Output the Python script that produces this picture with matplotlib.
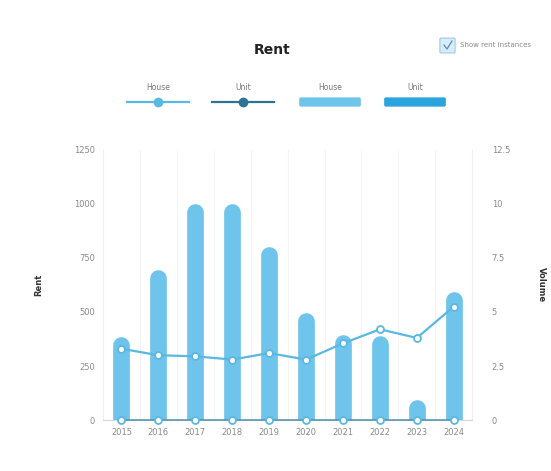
import numpy as np
import matplotlib
matplotlib.use('Agg')
import matplotlib.pyplot as plt
from matplotlib.transforms import ScaledTranslation
from matplotlib.lines import Line2D
from matplotlib.patches import FancyBboxPatch

years = ['2015', '2016', '2017', '2018', '2019', '2020', '2021', '2022', '2023', '2024']
house_rent = [385, 695, 1000, 1000, 800, 495, 395, 390, 95, 595]
unit_rent = [0, 0, 0, 0, 0, 0, 0, 0, 0, 0]
house_volume = [3.3, 3.0, 2.95, 2.8, 3.1, 2.8, 3.55, 4.2, 3.8, 5.25]
unit_volume = [0, 0, 0, 0, 0, 0, 0, 0, 0, 0]

rent_ticks = [0, 250, 500, 750, 1000, 1250]
vol_ticks = [0, 2.5, 5, 7.5, 10, 12.5]

c_house_line = '#5ab8e2'
c_unit_line = '#2d7494'
c_house_bar = '#6ec4ea'
c_unit_bar = '#2aa4dc'
tick_col = '#8a8a8a'

fig = plt.figure(figsize=(5.51, 4.71), dpi=100)
fig.patch.set_facecolor('white')
ax = fig.add_axes([0.187, 0.108, 0.67, 0.574])
ax2 = ax.twinx()

x = np.arange(len(years))
bar_w = 12.0  # points
shift = ScaledTranslation(0, -bar_w / 2 / 72., fig.dpi_scale_trans)
ax.vlines(x, 0, house_rent, colors=c_house_bar, linewidth=bar_w,
          capstyle='round', transform=ax.transData + shift, zorder=2)
ax.vlines(x, 0, unit_rent, colors=c_unit_bar, linewidth=bar_w,
          capstyle='round', transform=ax.transData + shift, zorder=2)

ax.set_xlim(-0.5, len(years) - 0.5)
ax.set_ylim(0, 1250)
ax.set_yticks(rent_ticks)
ax.set_yticklabels([str(t) for t in rent_ticks])
ax.set_xticks(x)
ax.set_xticklabels(years)
ax.set_xticks(np.arange(len(years) + 1) - 0.5, minor=True)
ax.grid(True, which='minor', axis='x', color='#f4f4f4', linewidth=0.8)
ax.tick_params(which='both', length=0, labelsize=6, colors=tick_col, pad=6)

ax2.plot(x, unit_volume, color='#4f8fb0', linewidth=1.1, marker='o',
         markersize=5, markerfacecolor='white', markeredgecolor=c_house_line,
         markeredgewidth=1.3, clip_on=False, zorder=3)
ax2.plot(x, house_volume, color=c_house_line, linewidth=1.6, marker='o',
         markersize=5, markerfacecolor='white', markeredgecolor=c_house_line,
         markeredgewidth=1.3, clip_on=False, zorder=4)
ax2.set_ylim(0, 12.5)
ax2.set_yticks(vol_ticks)
ax2.set_yticklabels(['0', '2.5', '5', '7.5', '10', '12.5'])
ax2.tick_params(length=0, labelsize=6, colors=tick_col, pad=14)

for a in (ax, ax2):
    for s in a.spines.values():
        s.set_visible(False)
ax.spines['bottom'].set_visible(True)
ax.spines['bottom'].set_color('#d6d6d6')
ax.spines['left'].set_visible(True)
ax.spines['left'].set_color('#efefef')
ax.spines['right'].set_visible(True)
ax.spines['right'].set_color('#efefef')

ax.set_ylabel('Rent', fontsize=6, fontweight='bold', color='#333333', labelpad=22)
ax2.set_ylabel('Volume', fontsize=6, fontweight='bold', color='#333333',
               rotation=270, labelpad=26)

fig.text(0.494, 0.893, 'Rent', ha='center', va='center', fontsize=10,
         fontweight='bold', color='#222222')

# legend
H, W = 471., 551.
labels = ['House', 'Unit', 'House', 'Unit']
centers = [158, 243, 330, 415]
for i, (lab, cx) in enumerate(zip(labels, centers)):
    fig.text(cx / W, 1 - 88 / H, lab, ha='center', va='center', fontsize=5.5,
             color='#777777')
    if i < 2:
        col = c_house_line if i == 0 else c_unit_line
        fig.add_artist(Line2D([(cx - 31) / W, (cx + 31) / W], [1 - 102 / H] * 2,
                              color=col, linewidth=1.6))
        fig.add_artist(Line2D([cx / W], [1 - 102 / H], marker='o', markersize=6,
                              color=col, markeredgecolor=col))
    else:
        col = c_house_bar if i == 2 else c_unit_bar
        fig.add_artist(FancyBboxPatch(((cx - 29) / W, 1 - 105 / H), 58 / W, 6 / H,
                                      boxstyle='round,pad=0.002', color=col,
                                      transform=fig.transFigure))

# checkbox
fig.add_artist(FancyBboxPatch((441 / W, 1 - 52 / H), 13 / W, 13 / H,
                              boxstyle='round,pad=0.002', facecolor='#d9ecf8',
                              edgecolor='#9fcbe8', linewidth=0.8,
                              transform=fig.transFigure))
fig.add_artist(Line2D([444 / W, 447 / W, 452 / W], [1 - 45 / H, 1 - 49 / H, 1 - 41 / H],
                      color='#5b8fb8', linewidth=0.9))
fig.text(460 / W, 1 - 45 / H, 'Show rent instances', ha='left', va='center',
         fontsize=5, color='#888888')

plt.savefig('out.png', dpi=100)
